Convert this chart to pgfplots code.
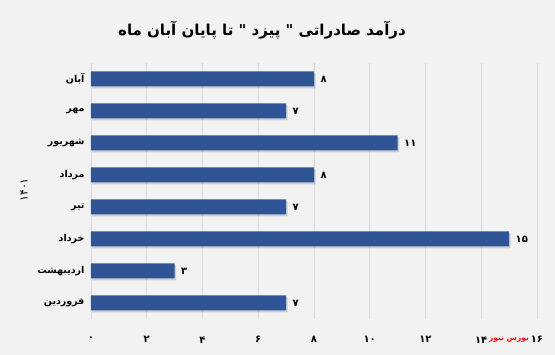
\documentclass[border=0pt]{standalone}
\usepackage{fontspec}
\usepackage{pgfplots}
\pgfplotsset{compat=1.18}
\usetikzlibrary{shadows}
\TeXXeTstate=1
\newfontfamily\arabicfont[Script=Arabic]{DejaVu Sans}
\definecolor{barblue}{HTML}{2F5597}
\definecolor{bg}{HTML}{F2F2F2}
\definecolor{gridc}{HTML}{D9D9D9}
\begin{document}
\begin{tikzpicture}[x=1pt,y=1pt]
\fill[bg] (0,0) rectangle (555,355);
\begin{axis}[
  at={(91pt,36pt)}, anchor=south west,
  scale only axis, width=446pt, height=256pt,
  xbar, xmin=0, xmax=16, ymin=0.5, ymax=8.5,
  bar width=15pt,
  axis line style={draw=none},
  major tick length=0pt,
  xmajorgrids, grid style={gridc, line width=0.8pt},
  xtick={0,2,4,6,8,10,12,14,16},
  xticklabels={{\arabicfont ۰},{\arabicfont ۲},{\arabicfont ۴},{\arabicfont ۶},{\arabicfont ۸},{\arabicfont ۱۰},{\arabicfont ۱۲},{\arabicfont ۱۴},{\arabicfont ۱۶}},
  ytick={1,2,3,4,5,6,7,8},
  yticklabels={{\arabicfont\beginR فروردین\endR},{\arabicfont\beginR اردیبهشت\endR},{\arabicfont\beginR خرداد\endR},{\arabicfont\beginR تیر\endR},{\arabicfont\beginR مرداد\endR},{\arabicfont\beginR شهریور\endR},{\arabicfont\beginR مهر\endR},{\arabicfont\beginR آبان\endR}},
  x tick label style={font=\bfseries\fontsize{10}{11}\selectfont, yshift=-14pt},
  y tick label style={font=\bfseries\fontsize{9.5}{11}\selectfont, xshift=-3pt},
  point meta=explicit symbolic,
  nodes near coords,
  nodes near coords align=horizontal,
  every node near coord/.append style={font=\arabicfont\bfseries\fontsize{10}{11}\selectfont, black, anchor=west, xshift=3pt},
]
\addplot[fill=barblue, draw=none, drop shadow={shadow xshift=1.5pt, shadow yshift=-2pt, opacity=0.3}]
  coordinates {(7,1) [۷] (3,2) [۳] (15,3) [۱۵] (7,4) [۷] (8,5) [۸] (11,6) [۱۱] (7,7) [۷] (8,8) [۸]};
\end{axis}
\node[font=\arabicfont\bfseries\fontsize{15}{17}\selectfont] at (262,325) {\beginR درآمد صادراتی " پیزد " تا پایان آبان ماه\endR};
\node[rotate=90, font=\arabicfont\fontsize{11}{12}\selectfont] at (24,165) {۱۴۰۱};
\node[red, font=\arabicfont\bfseries\fontsize{7.5}{9}\selectfont, inner sep=0pt] at (509,15) {\beginR بورس نیوز\endR};
\end{tikzpicture}
\end{document}
